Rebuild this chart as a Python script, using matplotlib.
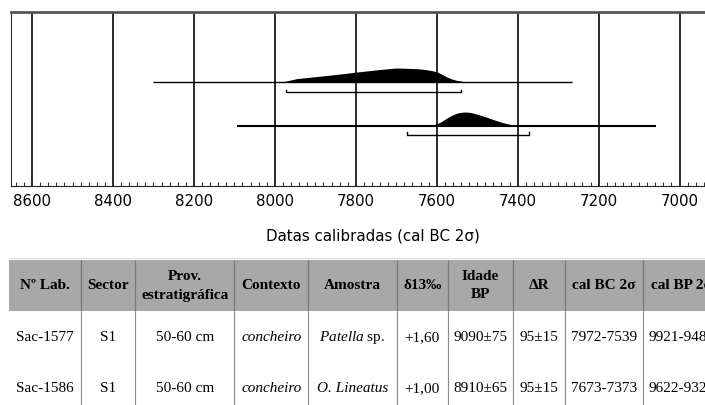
import numpy as np
import matplotlib
matplotlib.use("Agg")
import matplotlib.pyplot as plt
from matplotlib.patches import Rectangle

plt.rcParams['mathtext.fontset'] = 'custom'
plt.rcParams['mathtext.rm'] = 'Liberation Serif'
plt.rcParams['mathtext.it'] = 'Liberation Serif:italic'

# ---- calibrated curves (cal BC) ----
dist1_years = [8000, 7975, 7946, 7900, 7864, 7830, 7798, 7770, 7741, 7720, 7700, 7675, 7650, 7630, 7610, 7598, 7587, 7576, 7563, 7551, 7527]
dist1_prob  = [0.0, 0.05, 0.24, 0.38, 0.49, 0.60, 0.71, 0.80, 0.89, 0.95, 1.0, 0.98, 0.95, 0.90, 0.80, 0.71, 0.55, 0.37, 0.22, 0.12, 0.0]
dist2_years = [7642, 7620, 7601, 7588, 7576, 7563, 7551, 7540, 7527, 7515, 7502, 7485, 7469, 7452, 7436, 7420, 7403, 7395]
dist2_prob  = [0.0, 0.04, 0.14, 0.32, 0.55, 0.76, 0.91, 0.98, 1.0, 0.96, 0.86, 0.71, 0.55, 0.38, 0.24, 0.12, 0.05, 0.0]
range_lines = [(8300, 7266), (8094, 7059)]
brackets = [(7972, 7539), (7673, 7373)]

# ---- table ----
header = ["Nº Lab.", "Sector", "Prov.\nestratigráfica", "Contexto", "Amostra",
          "δ13‰", "Idade\nBP", "ΔR", "cal BC 2σ", "cal BP 2σ"]
lab = ["Sac-1577", "Sac-1586"]
sector = ["S1", "S1"]
prov = ["50-60 cm", "50-60 cm"]
contexto = ["concheiro", "concheiro"]
amostra = [r"$\mathit{Patella}$ sp.", "O. Lineatus"]
d13 = ["+1,60", "+1,00"]
idade = ["9090±75", "8910±65"]
delta_r = ["95±15", "95±15"]
cal_bc = ["7972-7539", "7673-7373"]
cal_bp = ["9921-9488", "9622-9322"]

W, H = 705, 405
fig = plt.figure(figsize=(W / 100, H / 100), dpi=100)

def box(x0, y0, x1, y1):
    return [x0 / W, 1 - y1 / H, (x1 - x0) / W, (y1 - y0) / H]

# chart axes: y in pixel-like units (0 bottom .. 174 top)
ax = fig.add_axes(box(11, 12, 720, 186))
ax.set_xlim(8652, 6900)
ax.set_ylim(0, 174)
ax.set_yticks([])
ax.set_xticks(np.arange(7000, 8601, 200))
ax.set_xticks(np.arange(6920, 8652, 20), minor=True)
ax.tick_params(axis='x', which='major', length=0, pad=6, labelsize=10.8)
ax.tick_params(axis='x', which='minor', direction='in', length=3, width=0.8, color='#333333')
ax.xaxis.grid(True, which='major', color='#1a1a1a', lw=1.3)
ax.set_axisbelow(True)
ax.spines['right'].set_visible(False)
ax.spines['top'].set_linewidth(2)
ax.spines['top'].set_color('#555555')
ax.spines['left'].set_color('#333333')
ax.spines['bottom'].set_color('#222222')

bases = [104, 60]
bracket_y = [94, 51.5]
lws = [1.0, 1.5]
dists = [(dist1_years, dist1_prob), (dist2_years, dist2_prob)]
for i in range(2):
    yrs, p = dists[i]
    ax.fill_between(yrs, bases[i], bases[i] + 14 * np.array(p), color='black', lw=0, zorder=3)
    ax.hlines(bases[i], range_lines[i][0], range_lines[i][1], color='black', lw=lws[i], zorder=3)
    b0, b1 = brackets[i]
    ax.plot([b0, b0, b1, b1], [bracket_y[i] + 2.5, bracket_y[i], bracket_y[i], bracket_y[i] + 2.5],
            color='black', lw=1.0, zorder=3)

fig.text(373 / W, 1 - 236 / H, "Datas calibradas (cal BC 2σ)", ha='center', va='center', fontsize=10.8)

# table drawn in pixel coords
tab = fig.add_axes([0, 0, 1, 1])
tab.set_xlim(0, W)
tab.set_ylim(H, 0)
tab.axis('off')
edges = [9, 80.7, 135, 234.3, 308.3, 396.7, 447.7, 513.3, 565, 642.7, 720]
tab.hlines(258, 9, 720, color='#dddddd', lw=0.8)
tab.add_patch(Rectangle((9, 260), 711, 50.7, color='#a8a8a8', lw=0))
for e in edges[1:-1]:
    tab.vlines(e, 260, 310.7, color='#777777', lw=0.9)
    tab.vlines(e, 310.7, 405, color='#8a8a8a', lw=0.8)

cols = [lab, sector, prov, contexto, amostra, d13, idade, delta_r, cal_bc, cal_bp]
italic_cells = {(3, 0), (3, 1), (4, 1)}
row_y = [337.7, 389]
for j in range(len(header)):
    cx = (edges[j] + edges[j + 1]) / 2
    tab.text(cx, 285.5, header[j], ha='center', va='center', fontsize=11,
             family='Liberation Serif', weight='bold', linespacing=1.6)
    for r in range(2):
        style = 'italic' if (j, r) in italic_cells else 'normal'
        tab.text(cx, row_y[r], cols[j][r], ha='center', va='center', fontsize=11,
                 family='Liberation Serif', style=style)

fig.savefig("out.png", dpi=100)
